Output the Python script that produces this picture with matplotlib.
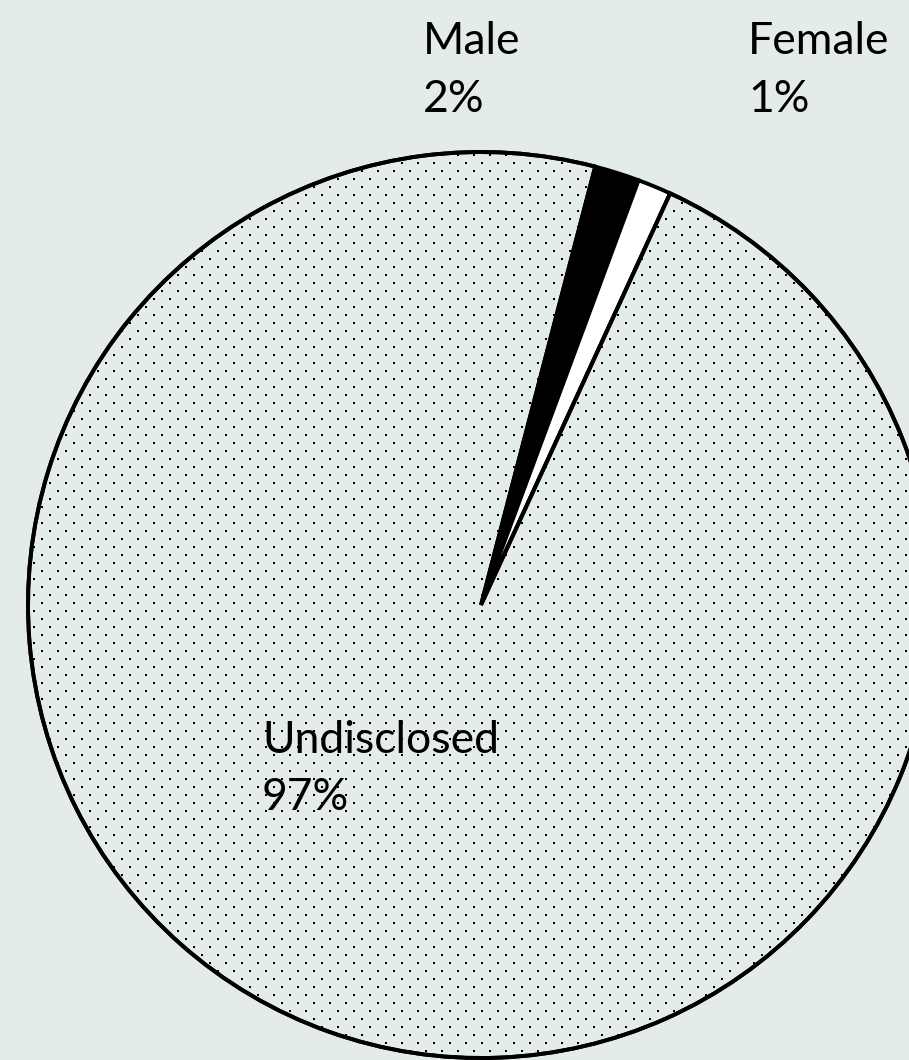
import numpy as np
import matplotlib.pyplot as plt

# 数据
labels = ["Male", "Female", "Undisclosed"]
shares = [1.6, 1.2, 97.2]
shown_pct = ["2%", "1%", "97%"]

colors = ["black", "white", "#E4ECEA"]
dotted = [False, False, True]

plt.rcParams["font.family"] = ["Lato", "DejaVu Sans"]

W, H = 909, 1060
fig = plt.figure(figsize=(W / 100, H / 100), dpi=100)
fig.patch.set_facecolor("#E4ECEA")
ax = fig.add_axes([0, 0, 1, 1])
ax.set_facecolor("#E4ECEA")

# 饼图中心和半径(像素)
cx, cy, r = 481, 605, 453

wedges, _ = ax.pie(shares, colors=colors, startangle=75.4, counterclock=False,
                   radius=1.0, center=(0, 0),
                   wedgeprops=dict(edgecolor="black", linewidth=2.8))

ax.set_xlim(-cx / r, (W - cx) / r)
ax.set_ylim((cy - H) / r, cy / r)
ax.set_aspect("auto")
ax.axis("off")

# 点状填充: 8像素交错网格
gx, gy = np.meshgrid(np.arange(2, W, 8), np.arange(3, H, 8))
keep = ((gx - 2) // 8 + (gy - 3) // 8) % 2 == 0
px, py = gx[keep], gy[keep]
dx, dy = (px - cx) / r, (cy - py) / r
for w, d in zip(wedges, dotted):
    if not d:
        continue
    sc = ax.scatter(dx, dy, s=2.2, marker="s", color="black", linewidths=0, zorder=w.get_zorder() + 0.1)
    sc.set_clip_path(w)
    # 重新画边框, 压在点上面
    ax.add_patch(plt.matplotlib.patches.Wedge(w.center, w.r, w.theta1, w.theta2, facecolor="none",
                                              edgecolor="black", linewidth=2.8, zorder=w.get_zorder() + 0.2))

# 标签位置(像素)
label_pos = [(423, 21), (748, 21), (262, 720)]
for name, pct, (lx, ly) in zip(labels, shown_pct, label_pos):
    fig.text(lx / W, 1 - ly / H, f"{name}\n{pct}", ha="left", va="top",
             fontsize=32, color="black", linespacing=1.5)

fig.savefig("out.png", dpi=100, facecolor=fig.get_facecolor())
